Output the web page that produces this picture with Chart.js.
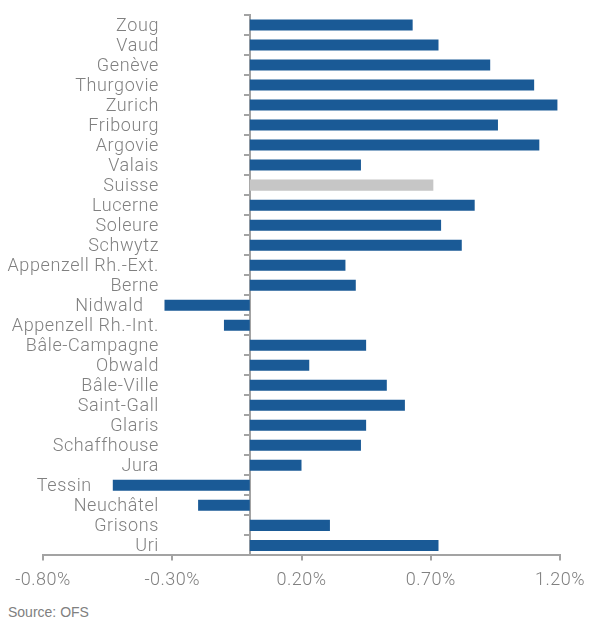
<!DOCTYPE html>
<html><head><meta charset="utf-8">
<script src="https://cdn.jsdelivr.net/npm/chart.js@4/dist/chart.umd.min.js"></script>
<style>
html,body{margin:0;padding:0;background:#fff;}
#wrap{position:relative;width:590px;height:621px;}
#source{position:absolute;left:8px;top:604px;font:14px "Liberation Sans",Arial,sans-serif;color:#808080;line-height:16px;}
</style></head><body>
<div id="wrap"><canvas id="c" width="590" height="600"></canvas><div id="source">Source: OFS</div></div>
<script>
const cantons = ['Zoug','Vaud','Genève','Thurgovie','Zurich','Fribourg','Argovie','Valais','Suisse','Lucerne','Soleure','Schwytz','Appenzell Rh.-Ext.','Berne','Nidwald','Appenzell Rh.-Int.','Bâle-Campagne','Obwald','Bâle-Ville','Saint-Gall','Glaris','Schaffhouse','Jura','Tessin','Neuchâtel','Grisons','Uri'];
const growth = [0.63,0.73,0.93,1.10,1.19,0.96,1.12,0.43,0.71,0.87,0.74,0.82,0.37,0.41,-0.33,-0.10,0.45,0.23,0.53,0.60,0.45,0.43,0.20,-0.53,-0.20,0.31,0.73];
const highlight = 'Suisse';
const xTickValues = [-0.8,-0.3,0.2,0.7,1.2];

const BLUE = '#1a5a96', GRAY = '#c6c6c6', AXIS = '#a3a3a3', TEXT = '#808080';

const labelPlugin = {
  id: 'catLabels',
  afterDraw(chart) {
    const ctx = chart.ctx, ys = chart.scales.y, xs = chart.scales.x;
    const defaultRight = xs.left + 116;
    ctx.save();
    ctx.font = '300 18px Roboto';
    ctx.letterSpacing = '0.6px';
    ctx.fillStyle = TEXT;
    ctx.textAlign = 'right';
    ctx.textBaseline = 'middle';
    cantons.forEach((name, i) => {
      const v = growth[i];
      let right = defaultRight;
      if (v < 0) right = Math.min(defaultRight, xs.getPixelForValue(v) - 21);
      ctx.fillText(name, right, ys.getPixelForValue(i) + 1);
    });
    ctx.restore();
  }
};

const tickSpacing = {
  id: 'tickSpacing',
  beforeDraw(chart) { chart.ctx.letterSpacing = '0.5px'; }
};

new Chart(document.getElementById('c'), {
  type: 'bar',
  data: {
    labels: cantons,
    datasets: [{
      data: growth,
      backgroundColor: cantons.map(c => c === highlight ? GRAY : BLUE),
      barPercentage: 0.55,
      categoryPercentage: 1
    }]
  },
  options: {
    indexAxis: 'y',
    responsive: false,
    animation: false,
    layout: { padding: { left: 43, right: 30, top: 15, bottom: 0 } },
    plugins: { legend: { display: false }, tooltip: { enabled: false } },
    scales: {
      x: {
        min: -0.8, max: 1.2,
        afterBuildTicks: s => { s.ticks = xTickValues.map(v => ({ value: v })); },
        afterFit: s => { s.paddingLeft = 0; s.paddingRight = 0; },
        grid: { display: true, drawOnChartArea: false, drawTicks: true, tickLength: 5, color: AXIS, lineWidth: 2 },
        border: { display: true, color: AXIS, width: 2 },
        ticks: { callback: v => v.toFixed(2) + '%', font: { family: 'Roboto', size: 18, weight: 300 }, color: TEXT, padding: 9, maxRotation: 0, autoSkip: false }
      },
      y: {
        position: { x: 0 },
        grid: { display: true, drawOnChartArea: false, drawTicks: true, tickLength: 5, offset: true, color: AXIS, lineWidth: 2 },
        border: { display: true, color: AXIS, width: 2 },
        ticks: { display: false }
      }
    }
  },
  plugins: [tickSpacing, labelPlugin]
});
</script>
</body></html>
